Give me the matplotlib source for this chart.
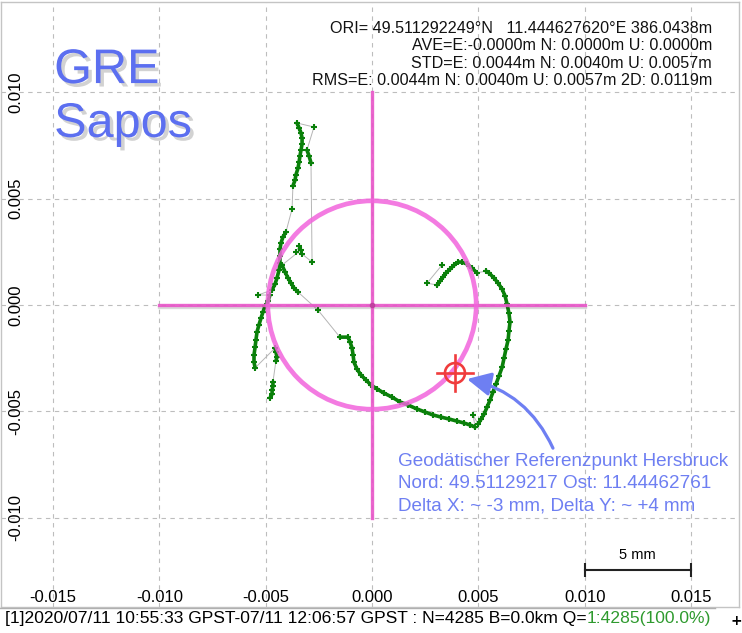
import matplotlib
matplotlib.use("Agg")
import matplotlib.pyplot as plt
import matplotlib.patheffects as pe
from matplotlib.patches import Circle, FancyArrowPatch
from matplotlib.lines import Line2D
from matplotlib.transforms import blended_transform_factory
import numpy as np

# track pieces, east / north offsets in mm, in time order
tail_low_e = [-4.80, -4.70, -4.70, -4.66, -4.66]
tail_low_n = [-4.37, -4.19, -4.00, -3.81, -3.62]
tail_mid_e = [-4.52, -4.47, -4.52, -4.56]
tail_mid_n = [-2.63, -2.45, -2.21, -2.02]
arc_low_e = [-5.50, -5.55, -5.55, -5.50, -5.46, -5.41, -5.32, -5.22, -5.13, -5.03, -4.89, -4.80]
arc_low_n = [-2.96, -2.68, -2.35, -1.98, -1.65, -1.27, -0.94, -0.61, -0.33, -0.05, 0.19, 0.47]
stray_left_e = [-5.36]
stray_left_n = [0.47]
arc_up_e = [-4.70, -4.56, -4.47, -4.37, -4.33, -4.33, -4.33, -4.28, -4.19, -4.05]
arc_up_n = [0.71, 0.99, 1.27, 1.65, 1.98, 2.30, 2.63, 2.92, 3.20, 3.43]
jump_up_e = [-3.76]
jump_up_n = [4.52]
column_e = [-3.72, -3.62, -3.58, -3.48, -3.43, -3.39, -3.34, -3.29, -3.29, -3.34, -3.43, -3.53]
column_n = [5.60, 5.88, 6.12, 6.44, 6.73, 7.01, 7.29, 7.57, 7.86, 8.09, 8.33, 8.56]
top_right_e = [-2.73]
top_right_n = [8.37]
branch_e = [-3.06, -2.96, -2.87]
branch_n = [7.29, 7.01, 6.68]
cluster_e = [-2.82, -3.29, -3.58, -3.43, -3.34]
cluster_n = [2.02, 2.40, 2.49, 2.78, 2.59]
v_branch_e = [-4.23, -4.09, -3.95, -3.81, -3.67, -3.48]
v_branch_n = [1.88, 1.55, 1.27, 1.03, 0.80, 0.61]
jump_mid_e = [-2.54]
jump_mid_n = [-0.24]
lower_arc_e = [-1.51, -1.13, -1.03, -0.94, -0.89, -0.85, -0.71, -0.52, -0.28, -0.05, 0.24, 0.56,
               0.94, 1.32, 1.69, 2.12, 2.49, 2.87, 3.25, 3.62, 4.00, 4.33, 4.61, 4.85]
lower_arc_n = [-1.51, -1.51, -1.74, -2.02, -2.35, -2.68, -3.01, -3.29, -3.53, -3.76, -3.95, -4.14,
               -4.33, -4.56, -4.70, -4.89, -5.03, -5.17, -5.27, -5.36, -5.46, -5.55, -5.64, -5.74]
stray_low_e = [4.75]
stray_low_n = [-5.17]
right_arc_e = [4.99, 5.13, 5.27, 5.41, 5.55, 5.69, 5.83, 5.97, 6.12, 6.21, 6.30, 6.40, 6.44, 6.49,
               6.44, 6.35, 6.26, 6.12, 5.93, 5.74, 5.50, 5.36]
right_arc_n = [-5.60, -5.36, -5.13, -4.80, -4.47, -4.09, -3.72, -3.34, -2.92, -2.49, -2.07, -1.65,
               -1.22, -0.80, -0.38, 0.05, 0.42, 0.75, 1.03, 1.27, 1.51, 1.60]
loop_e = [4.94, 4.70, 4.47, 4.23, 4.05, 3.86, 3.67, 3.48, 3.34, 3.20, 3.06]
loop_n = [1.51, 1.74, 1.93, 2.02, 2.02, 1.88, 1.69, 1.51, 1.32, 1.13, 0.94]
end_e = [2.59, 3.29]
end_n = [1.03, 1.88]

pieces = [
    (tail_low_e, tail_low_n, True),
    (tail_mid_e, tail_mid_n, True),
    (arc_low_e, arc_low_n, True),
    (stray_left_e, stray_left_n, False),
    (arc_up_e, arc_up_n, True),
    (jump_up_e, jump_up_n, False),
    (column_e, column_n, True),
    (top_right_e, top_right_n, False),
    (branch_e, branch_n, True),
    (cluster_e, cluster_n, False),
    (v_branch_e, v_branch_n, True),
    (jump_mid_e, jump_mid_n, False),
    (lower_arc_e, lower_arc_n, True),
    (stray_low_e, stray_low_n, False),
    (right_arc_e, right_arc_n, True),
    (loop_e, loop_n, True),
    (end_e, end_n, False),
]

# reference point and circle
ref_e, ref_n = 3.9, -3.2          # mm
circle_r = 4.9                    # mm
cross_half = 10.0                 # mm

x_ticks = [-0.015, -0.010, -0.005, 0.000, 0.005, 0.010, 0.015]
y_ticks = [-0.010, -0.005, 0.000, 0.005, 0.010]

info_lines = [
    "ORI= 49.511292249\u00b0N   11.444627620\u00b0E 386.0438m",
    "AVE=E:-0.0000m N: 0.0000m U: 0.0000m",
    "STD=E: 0.0044m N: 0.0040m U: 0.0057m",
    "RMS=E: 0.0044m N: 0.0040m U: 0.0057m 2D: 0.0119m",
]
note_lines = [
    "Geod\u00e4tischer Referenzpunkt Hersbruck",
    "Nord: 49.51129217 Ost: 11.44462761",
    "Delta X: ~ -3 mm, Delta Y: ~ +4 mm",
]
status_main = "[1]2020/07/11 10:55:33 GPST-07/11 12:06:57 GPST : N=4285 B=0.0km Q="
status_q = "1:4285(100.0%)"

mm = 1e-3
green = "#0a800a"
pink = "#f264dc"
blue = "#6e7ff2"
font = "Liberation Sans"

fig = plt.figure(figsize=(7.42, 6.33), dpi=100)
ax = fig.add_axes([1 / 742, 26 / 633, 738 / 742, 605 / 633])
ax.set_xlim(-0.01745, 0.01726)
ax.set_ylim(-0.01420, 0.01425)
ax.set_xticks(x_ticks)
ax.set_yticks(y_ticks)
ax.tick_params(length=0, labelbottom=False, labelleft=False)
ax.grid(True, color="#bdbdbd", lw=0.8, linestyle=(0, (4, 4)))
ax.set_axisbelow(True)
for s in ax.spines.values():
    s.set_color("#c4c4c4")
    s.set_linewidth(1)

# tick labels sit inside the frame
bx = blended_transform_factory(ax.transData, ax.transAxes)
by = blended_transform_factory(ax.transAxes, ax.transData)
for t in x_ticks:
    ax.text(t, 0.0165, f"{t:.3f}".replace("-0.000", "0.000"), transform=bx,
            ha="center", va="center", fontsize=12, family=font)
for t in y_ticks:
    ax.text(0.0203, t, f"{t:.3f}".replace("-0.000", "0.000"), transform=by,
            ha="center", va="center", rotation=90, fontsize=12, family=font)

# track: thin gray connection through every epoch, green solution marks on top
all_e = np.concatenate([p[0] for p in pieces]) * mm
all_n = np.concatenate([p[1] for p in pieces]) * mm
ax.plot(all_e, all_n, color="#b5b5b5", lw=0.7, zorder=2)
for e, n, solid in pieces:
    e = np.array(e) * mm
    n = np.array(n) * mm
    if solid:
        ax.plot(e, n, color=green, lw=2.6, zorder=3, solid_capstyle="round")
    ax.plot(e, n, "+", color=green, ms=5, mew=1.5, zorder=3)

# pink crosshair and circle
ax.plot([-cross_half * mm, cross_half * mm], [0, 0], color="#e854c8", lw=2.4, alpha=0.9, zorder=4,
        path_effects=[pe.SimpleLineShadow(offset=(0, -1.5), alpha=0.15), pe.Normal()])
ax.plot([0, 0], [-cross_half * mm, cross_half * mm], color="#e854c8", lw=2.4, alpha=0.9, zorder=4)
ax.add_patch(Circle((0, 0), circle_r * mm, fill=False, ec=pink, lw=3.4, alpha=0.85, zorder=4))
ax.plot([0], [0], "o", color="#c0409f", ms=3, zorder=5)

# reference point target
ax.add_patch(Circle((ref_e * mm, ref_n * mm), 0.47 * mm, fill=False, ec="#f03c3c", lw=1.9, zorder=6))
ax.plot([(ref_e - 0.85) * mm, (ref_e + 0.85) * mm], [ref_n * mm, ref_n * mm], color="#f03c3c", lw=1.9, zorder=6)
ax.plot([ref_e * mm, ref_e * mm], [(ref_n - 0.85) * mm, (ref_n + 0.85) * mm], color="#f03c3c", lw=1.9, zorder=6)

arrow = FancyArrowPatch(posA=(8.51 * mm, -6.73 * mm), posB=((ref_e + 0.57) * mm, (ref_n - 0.28) * mm),
                        arrowstyle="-|>,head_length=0.8,head_width=0.4",
                        connectionstyle="arc3,rad=0.25", mutation_scale=18,
                        color=blue, lw=2.3, zorder=6, shrinkA=0, shrinkB=0)
ax.add_patch(arrow)

for i, line in enumerate(note_lines):
    ax.text(0.538, 0.240 - i * 0.0365, line, transform=ax.transAxes, ha="left", va="center",
            fontsize=13.6, family=font, color=blue)

# title-ish labels
title_fx = [pe.withSimplePatchShadow(offset=(2.5, -2.5), shadow_rgbFace="#808080", alpha=0.35)]
ax.text(0.072, 0.866, "GRE", transform=ax.transAxes, ha="left", va="baseline", fontsize=35,
        family=font, color="#5c6ff0", path_effects=title_fx)
ax.text(0.072, 0.777, "Sapos", transform=ax.transAxes, ha="left", va="baseline", fontsize=35,
        family=font, color="#5c6ff0", path_effects=title_fx)

info_y = [0.957, 0.928, 0.899, 0.871]
for y, line in zip(info_y, info_lines):
    ax.text(0.9634, y, line, transform=ax.transAxes, ha="right", va="center", fontsize=11.6,
            family=font, color="#111111")

# 5 mm scale bar
bar_x0, bar_len = 0.010, 0.005
ax.plot([bar_x0, bar_x0 + bar_len], [0.061, 0.061], color="#222222", lw=1.5, transform=bx, zorder=5)
ax.plot([bar_x0, bar_x0 + bar_len], [0.061, 0.061], "|", color="#222222", ms=10, mew=1.5, transform=bx, zorder=5)
ax.text(bar_x0 + bar_len / 2, 0.086, "5 mm", transform=bx, ha="center", va="center",
        fontsize=10.5, family=font)

# status bar
fig.add_artist(Line2D([0, 715 / 742], [25 / 633, 25 / 633], color="#b0b0b0", lw=1))
st = fig.text(5 / 742, 14 / 633, status_main, ha="left", va="center", fontsize=12.6, family=font)
fig.canvas.draw()
bb = st.get_window_extent()
fig.text(bb.x1 / fig.bbox.width, 14 / 633, status_q, ha="left", va="center", fontsize=12.6,
         family=font, color="#2e9a2e")
fig.text(736 / 742, 12 / 633, "+", ha="center", va="center", fontsize=10, weight="bold")

fig.savefig("out.png", dpi=100)
